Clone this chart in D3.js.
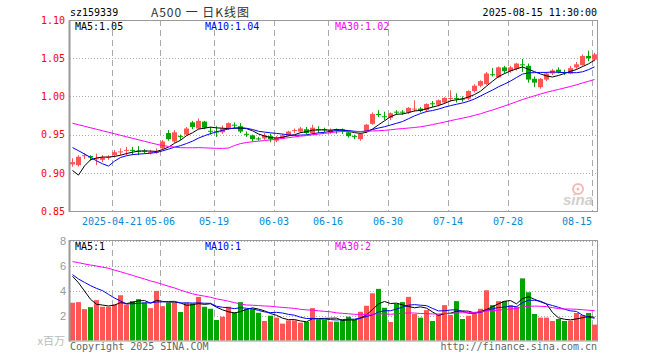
<!DOCTYPE html>
<html>
<head>
<meta charset="utf-8">
<script src="https://cdn.jsdelivr.net/npm/d3@7"></script>
<style>
  body { margin: 0; background: #fff; }
  svg { display: block; }
</style>
</head>
<body>
<div id="visContainer"></div>
<script>
// trading days shown (88 candles)
const dates = [
  "2025-04-10","2025-04-11","2025-04-14","2025-04-15","2025-04-16","2025-04-17","2025-04-18",
  "2025-04-21","2025-04-22","2025-04-23","2025-04-24","2025-04-25","2025-04-28","2025-04-29","2025-04-30",
  "2025-05-06","2025-05-07","2025-05-08","2025-05-09","2025-05-12","2025-05-13","2025-05-14","2025-05-15","2025-05-16",
  "2025-05-19","2025-05-20","2025-05-21","2025-05-22","2025-05-23","2025-05-26","2025-05-27","2025-05-28","2025-05-29","2025-05-30",
  "2025-06-03","2025-06-04","2025-06-05","2025-06-06","2025-06-09","2025-06-10","2025-06-11","2025-06-12","2025-06-13",
  "2025-06-16","2025-06-17","2025-06-18","2025-06-19","2025-06-20","2025-06-23","2025-06-24","2025-06-25","2025-06-26","2025-06-27",
  "2025-06-30","2025-07-01","2025-07-02","2025-07-03","2025-07-04","2025-07-07","2025-07-08","2025-07-09","2025-07-10","2025-07-11",
  "2025-07-14","2025-07-15","2025-07-16","2025-07-17","2025-07-18","2025-07-21","2025-07-22","2025-07-23","2025-07-24","2025-07-25",
  "2025-07-28","2025-07-29","2025-07-30","2025-07-31","2025-08-01","2025-08-04","2025-08-05","2025-08-06","2025-08-07","2025-08-08",
  "2025-08-11","2025-08-12","2025-08-13","2025-08-14","2025-08-15"
];

const open = [
  0.911,0.910,0.922,0.922,0.918,0.917,0.920,0.923,0.927,0.929,0.930,0.929,0.929,0.926,0.927,
  0.932,0.952,0.941,0.948,0.950,0.966,0.958,0.967,0.955,0.954,0.953,0.958,0.963,0.961,0.951,
  0.949,0.945,0.945,0.948,0.942,0.945,0.949,0.955,0.954,0.957,0.952,0.957,0.957,0.953,0.957,
  0.957,0.953,0.948,0.944,0.954,0.964,0.977,0.974,0.972,0.980,0.980,0.979,0.983,0.984,0.982,
  0.991,0.989,0.992,0.997,0.998,0.997,0.997,1.007,1.014,1.016,1.029,1.025,1.038,1.033,1.036,
  1.042,1.040,1.023,1.012,1.022,1.030,1.035,1.032,1.030,1.038,1.041,1.053,1.048
];
const high = [
  0.919,0.923,0.926,0.923,0.925,0.923,0.923,0.930,0.932,0.934,0.934,0.935,0.931,0.930,0.932,
  0.943,0.956,0.956,0.950,0.960,0.968,0.971,0.968,0.960,0.961,0.962,0.966,0.966,0.965,0.954,
  0.950,0.947,0.952,0.951,0.948,0.951,0.955,0.958,0.960,0.960,0.963,0.961,0.959,0.958,0.958,
  0.958,0.955,0.950,0.952,0.964,0.979,0.982,0.980,0.979,0.982,0.982,0.986,0.995,0.986,0.991,
  0.994,0.996,0.999,1.008,1.004,1.000,1.008,1.016,1.021,1.032,1.037,1.039,1.040,1.040,1.044,
  1.049,1.043,1.026,1.024,1.032,1.036,1.038,1.035,1.040,1.045,1.055,1.060,1.057
];
const low = [
  0.908,0.908,0.918,0.916,0.910,0.914,0.917,0.920,0.923,0.923,0.923,0.923,0.925,0.924,0.925,
  0.930,0.942,0.939,0.943,0.949,0.957,0.957,0.957,0.950,0.947,0.951,0.956,0.958,0.952,0.947,
  0.941,0.942,0.943,0.940,0.940,0.944,0.948,0.952,0.952,0.950,0.950,0.952,0.953,0.951,0.951,
  0.951,0.946,0.944,0.942,0.952,0.963,0.973,0.969,0.969,0.976,0.976,0.977,0.980,0.979,0.979,
  0.986,0.987,0.990,0.993,0.992,0.993,0.995,1.005,1.012,1.015,1.026,1.024,1.030,1.031,1.034,
  1.032,1.018,1.012,1.010,1.020,1.028,1.030,1.028,1.029,1.036,1.040,1.046,1.046
];
const close = [
  0.914,0.921,0.923,0.920,0.919,0.920,0.921,0.927,0.928,0.930,0.929,0.928,0.928,0.927,0.928,
  0.941,0.944,0.953,0.947,0.958,0.960,0.968,0.959,0.954,0.953,0.958,0.965,0.962,0.954,0.950,
  0.944,0.944,0.949,0.944,0.946,0.949,0.954,0.956,0.958,0.952,0.959,0.956,0.956,0.956,0.956,
  0.956,0.948,0.947,0.951,0.963,0.977,0.976,0.973,0.978,0.979,0.979,0.985,0.984,0.981,0.990,
  0.990,0.995,0.998,0.998,0.997,0.996,1.007,1.014,1.020,1.030,1.028,1.038,1.033,1.038,1.043,
  1.041,1.022,1.018,1.023,1.030,1.034,1.032,1.031,1.037,1.042,1.053,1.050,1.055
];
// volume, millions
const volume = [
  3.02,3.07,2.51,2.67,3.23,2.70,2.70,2.88,3.62,2.88,3.15,3.31,3.02,2.59,3.97,
  2.75,3.02,3.02,2.28,3.02,2.96,3.49,2.70,2.54,1.64,1.90,2.70,2.25,3.07,2.51,
  2.51,2.22,1.56,1.98,1.83,1.35,1.61,1.61,1.43,1.48,2.59,1.67,1.67,1.51,1.51,
  1.64,1.90,1.64,2.30,2.78,3.78,4.13,2.62,1.48,2.94,3.07,3.49,2.12,1.83,2.43,
  1.56,2.09,2.83,2.04,3.15,1.72,1.98,2.14,2.54,4.02,2.83,3.15,3.15,2.83,2.70,
  4.97,3.86,2.12,1.83,1.83,1.56,1.72,1.56,1.59,2.20,2.04,2.20,1.27
];
// 29 sessions before the window, only used to warm up the moving averages
const priorClose = [
  0.980,0.982,0.979,0.978,0.979,0.980,0.986,0.987,0.989,0.988,0.987,0.987,0.986,0.987,0.988,
  0.981,0.980,0.969,0.963,0.960,0.962,0.966,0.965,0.962,0.960,0.951,0.863,0.880,0.907
];
const priorVolume = [
  5.4,5.8,5.2,5.6,5.5,5.3,7.3,7.6,7.2,7.5,7.8,7.1,7.4,7.6,7.3,7.5,7.2,7.4,7.6,7.3,
  6.57,5.21,5.27,5.43,4.52,5.67,5.81,5.97,5.23
];

const tickDates = ["2025-04-21","2025-05-06","2025-05-19","2025-06-03","2025-06-16","2025-06-30","2025-07-14","2025-07-28","2025-08-15"];
const tickLabels = ["2025-04-21","05-06","05-19","06-03","06-16","06-30","07-14","07-28","08-15"];
const priceTicks = [1.10, 1.05, 1.00, 0.95, 0.90, 0.85];
const volTicks = [2, 4, 6, 8];
const maDays = [5, 10, 30];
const maColors = ["#000000", "#0000ff", "#ff00ff"];

function movingAvg(prior, values, n) {
  const all = prior.concat(values);
  return values.map((v, i) => {
    const k = i + prior.length;
    return d3.mean(all.slice(k - n + 1, k + 1));
  });
}

function makeChart() {
  const width = 660;
  const height = 360;
  const mono = "'DejaVu Sans Mono', monospace";
  const red = "#ff5555";
  const green = "#00a600";

  const svg = d3.create("svg")
    .attr("width", width)
    .attr("height", height)
    .style("background", "#fff");
  document.querySelector("#visContainer").append(svg.node());

  const x = d3.scaleBand().domain(dates).range([69.5, 597.5])
    .paddingInner(1 / 6).paddingOuter(1 / 12);
  const y = d3.scaleLinear().domain([0.85, 1.10]).range([211, 20]);
  const yv = d3.scaleLinear().domain([0, 8]).range([340.5, 240.5]);
  const cx = d => x(d) + x.bandwidth() / 2;

  const priceMA = maDays.map(n => movingAvg(priorClose, close, n));
  const volMA = maDays.map(n => movingAvg(priorVolume, volume, n));

  // header
  svg.append("text").attr("x", 70).attr("y", 16).text("sz159339")
    .style("font", "10px " + mono).attr("fill", "#000");
  svg.append("text").attr("x", 151).attr("y", 17).text("A500 一 日K线图")
    .attr("textLength", 98).attr("lengthAdjust", "spacing")
    .style("white-space", "pre")
    .style("font", "12px 'Noto Sans CJK SC'").attr("fill", "#333");
  svg.append("text").attr("x", 597).attr("y", 16).attr("text-anchor", "end")
    .text("2025-08-15 11:30:00").style("font", "10px " + mono).attr("fill", "#000");

  function panel(top, bottom, scale, ticks) {
    const g = svg.append("g");
    ticks.forEach(t => {
      const yy = Math.round(scale(t)) + 0.5;
      if (yy > top + 1 && yy < bottom - 1) {
        g.append("line").attr("x1", 70).attr("x2", 597).attr("y1", yy).attr("y2", yy)
          .attr("stroke", "#aaa").attr("stroke-dasharray", "1,2");
      }
    });
    tickDates.forEach(d => {
      const xx = Math.round(x(d)) + 0.5;
      g.append("line").attr("x1", xx).attr("x2", xx).attr("y1", top).attr("y2", bottom)
        .attr("stroke", "#aaa").attr("stroke-dasharray", "6,4");
    });
    return g;
  }

  function frame(top, bottom) {
    svg.append("rect").attr("x", 69.5).attr("y", top + 0.5)
      .attr("width", 528).attr("height", bottom - top)
      .attr("fill", "none").attr("stroke", "#999");
    svg.append("line").attr("x1", 69.5).attr("x2", 69.5).attr("y1", top).attr("y2", bottom + 1)
      .attr("stroke", "#999").attr("stroke-width", 2);
  }

  // ---- price panel
  panel(20, 211, y, priceTicks);

  const candles = svg.append("g");
  dates.forEach((d, i) => {
    const up = close[i] >= open[i];
    const col = up ? red : green;
    const mid = Math.floor(cx(d)) + 0.5;
    candles.append("line").attr("x1", mid).attr("x2", mid)
      .attr("y1", y(high[i])).attr("y2", y(low[i])).attr("stroke", col);
    const top = y(Math.max(open[i], close[i]));
    const bot = y(Math.min(open[i], close[i]));
    candles.append("rect").attr("x", x(d)).attr("y", top)
      .attr("width", x.bandwidth()).attr("height", Math.max(1, bot - top)).attr("fill", col);
  });

  maDays.forEach((n, k) => {
    svg.append("path")
      .datum(priceMA[k])
      .attr("fill", "none").attr("stroke", maColors[k]).attr("stroke-width", 1)
      .attr("d", d3.line().x((v, i) => cx(dates[i])).y(v => y(v)));
  });

  frame(20, 211);

  const yAxis = svg.append("g").attr("transform", "translate(70,0)")
    .call(d3.axisLeft(y).tickValues(priceTicks).tickFormat(d3.format(".2f")).tickSize(0).tickPadding(5));
  yAxis.select(".domain").remove();
  yAxis.selectAll("text").style("font", "10px " + mono).attr("fill", "#f00");

  const xAxis = svg.append("g").attr("transform", `translate(${-x.bandwidth() / 2},211)`)
    .call(d3.axisBottom(x).tickValues(tickDates).tickFormat((d, i) => tickLabels[i]).tickSize(0).tickPadding(7));
  xAxis.select(".domain").remove();
  xAxis.selectAll("text").style("font", "10px " + mono).attr("fill", "#0a88d8");
  xAxis.selectAll("text").filter((d, i) => i === tickDates.length - 1).attr("text-anchor", "end");

  const maLabelX = [75, 205, 335];
  maDays.forEach((n, k) => {
    svg.append("text").attr("x", maLabelX[k]).attr("y", 30)
      .text("MA" + n + ":" + priceMA[k][priceMA[k].length - 1].toFixed(2))
      .style("font", "10px " + mono).attr("fill", maColors[k]);
  });

  // sina watermark
  const wm = svg.append("g").attr("opacity", 0.55);
  wm.append("circle").attr("cx", 578).attr("cy", 189).attr("r", 5)
    .attr("fill", "none").attr("stroke", "#f08080").attr("stroke-width", 2);
  wm.append("circle").attr("cx", 578).attr("cy", 189).attr("r", 1.5).attr("fill", "#f08080");
  wm.append("text").attr("x", 563).attr("y", 205).text("sina")
    .style("font", "italic bold 15px 'Liberation Sans'").attr("fill", "#aaa");

  // ---- volume panel
  panel(240, 340.5, yv, volTicks);

  svg.append("g").selectAll("rect")
    .data(dates)
    .join("rect")
    .attr("x", d => x(d))
    .attr("y", (d, i) => yv(volume[i]))
    .attr("width", x.bandwidth())
    .attr("height", (d, i) => yv(0) - yv(volume[i]))
    .attr("fill", (d, i) => close[i] >= open[i] ? red : green);

  maDays.forEach((n, k) => {
    svg.append("path")
      .datum(volMA[k])
      .attr("fill", "none").attr("stroke", maColors[k]).attr("stroke-width", 1)
      .attr("d", d3.line().x((v, i) => cx(dates[i])).y(v => yv(v)));
  });

  frame(240, 340.5);

  const vAxis = svg.append("g").attr("transform", "translate(70,0)")
    .call(d3.axisLeft(yv).tickValues(volTicks).tickFormat(d3.format("d")).tickSize(0).tickPadding(4));
  vAxis.select(".domain").remove();
  vAxis.selectAll("text").style("font", "11px 'Liberation Sans'").attr("fill", "#999");

  svg.append("text").attr("x", 65).attr("y", 345).attr("text-anchor", "end").text("x百万")
    .style("font", "11px 'Noto Sans CJK SC'").attr("fill", "#bbb");

  maDays.forEach((n, k) => {
    svg.append("text").attr("x", maLabelX[k]).attr("y", 250)
      .text("MA" + n + ":" + Math.floor(volMA[k][volMA[k].length - 1]))
      .style("font", "10px " + mono).attr("fill", maColors[k]);
  });

  // footer
  svg.append("text").attr("x", 70).attr("y", 350).text("Copyright 2025 SINA.COM")
    .style("font", "10px " + mono).attr("fill", "#666");
  svg.append("text").attr("x", 597).attr("y", 350).attr("text-anchor", "end")
    .text("http://finance.sina.com.cn").style("font", "10px " + mono).attr("fill", "#666");
}

makeChart();
</script>
</body>
</html>
